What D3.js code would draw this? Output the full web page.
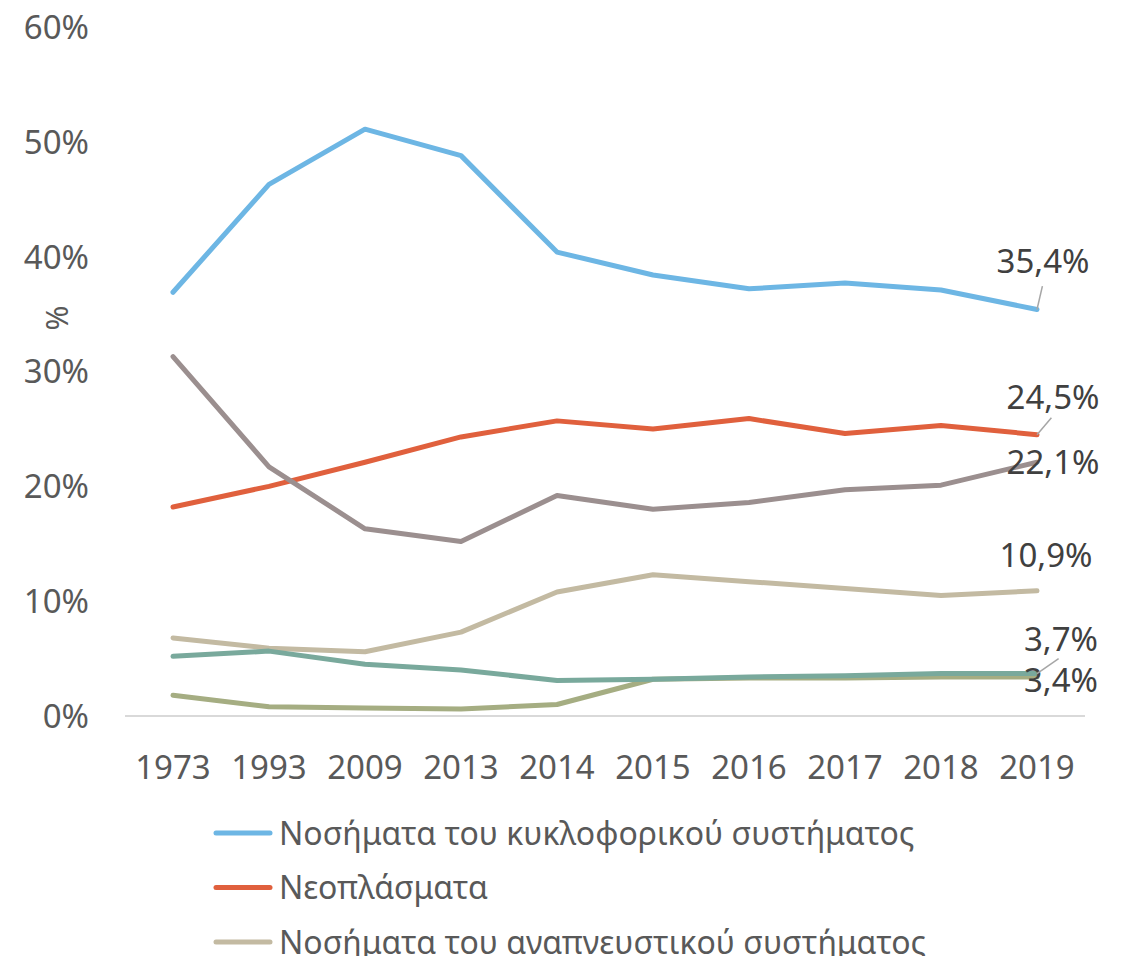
<!DOCTYPE html>
<html>
<head>
<meta charset="utf-8">
<script src="https://cdn.jsdelivr.net/npm/d3@7"></script>
<style>
  body { margin: 0; background: #fff; }
  text { font-family: "Noto Sans", "DejaVu Sans", sans-serif; }
</style>
</head>
<body>
<div id="chart"></div>
<script>
// years on the x axis
const years = ['1973', '1993', '2009', '2013', '2014', '2015', '2016', '2017', '2018', '2019'];

// share of deaths per cause, in percent
const circulatory = [36.9, 46.3, 51.1, 48.8, 40.4, 38.4, 37.2, 37.7, 37.1, 35.4];
const neoplasms   = [18.2, 20.0, 22.1, 24.3, 25.7, 25.0, 25.9, 24.6, 25.3, 24.5];
const respiratory = [6.8, 5.9, 5.6, 7.3, 10.8, 12.3, 11.7, 11.1, 10.5, 10.9];
const otherCauses = [31.3, 21.7, 16.3, 15.2, 19.2, 18.0, 18.6, 19.7, 20.1, 22.1];
const seriesE     = [1.8, 0.8, 0.7, 0.6, 1.0, 3.2, 3.3, 3.3, 3.4, 3.4];
const seriesF     = [5.2, 5.65, 4.5, 4.0, 3.1, 3.2, 3.4, 3.5, 3.7, 3.7];

const yTicks = [0, 10, 20, 30, 40, 50, 60];

const legendNames = [
  'Νοσήματα του κυκλοφορικού συστήματος',
  'Νεοπλάσματα',
  'Νοσήματα του αναπνευστικού συστήματος'
];

// drawing order (later on top)
const series = [
  { key: 'circ', values: circulatory, color: '#6db6e4', lab: [6, -36], lead: true },
  { key: 'neo',  values: neoplasms,   color: '#e0603d', lab: [16, -26], lead: true },
  { key: 'resp', values: respiratory, color: '#c3baa2', lab: [9, -24], lead: false },
  { key: 'oth',  values: otherCauses, color: '#9b8f8f', lab: [16, 12], lead: false },
  { key: 'e',    values: seriesE,     color: '#a5ad82', lab: [24, 15], lead: false },
  { key: 'f',    values: seriesF,     color: '#79a99c', lab: [24, -23], lead: true }
];

const width = 1125, height = 956;

const svg = d3.select('#chart').append('svg')
  .attr('width', width)
  .attr('height', height);

const x = d3.scaleBand()
  .domain(years)
  .range([125, 1085]);

const y = d3.scaleLinear()
  .domain([0, 60])
  .range([716, 27]);

const cx = d => x(d) + x.bandwidth() / 2;

// y tick labels
svg.append('g')
  .selectAll('text')
  .data(yTicks)
  .enter()
  .append('text')
  .attr('x', 89)
  .attr('y', d => y(d))
  .attr('dy', '0.36em')
  .attr('text-anchor', 'end')
  .style('font-size', '33px')
  .style('fill', '#595959')
  .text(d => d + '%');

// y axis title
svg.append('text')
  .attr('transform', 'translate(57,318) rotate(-90)')
  .attr('text-anchor', 'middle')
  .attr('dy', '0.36em')
  .style('font-size', '30px')
  .style('fill', '#595959')
  .text('%');

// baseline
svg.append('line')
  .attr('x1', 125).attr('x2', 1085)
  .attr('y1', y(0)).attr('y2', y(0))
  .attr('stroke', '#d9d9d9')
  .attr('stroke-width', 2);

// x tick labels
svg.append('g')
  .selectAll('text')
  .data(years)
  .enter()
  .append('text')
  .attr('x', d => cx(d))
  .attr('y', 779)
  .attr('text-anchor', 'middle')
  .style('font-size', '33px')
  .style('fill', '#595959')
  .text(d => d);

const line = d3.line()
  .x((d, i) => cx(years[i]))
  .y(d => y(d));

svg.append('g')
  .selectAll('path')
  .data(series)
  .enter()
  .append('path')
  .attr('d', d => line(d.values))
  .attr('fill', 'none')
  .attr('stroke', d => d.color)
  .attr('stroke-width', 5)
  .attr('stroke-linecap', 'round')
  .attr('stroke-linejoin', 'round');

// end-of-line labels
const last = years.length - 1;
const labels = svg.append('g');
series.forEach(s => {
  const px = cx(years[last]);
  const py = y(s.values[last]);
  if (s.lead) {
    labels.append('line')
      .attr('x1', px).attr('y1', py)
      .attr('x2', px + s.lab[0] * 0.9).attr('y2', py + s.lab[1] * 0.65)
      .attr('stroke', '#a6a6a6')
      .attr('stroke-width', 1.5);
  }
  labels.append('text')
    .attr('x', px + s.lab[0])
    .attr('y', py + s.lab[1])
    .attr('text-anchor', 'middle')
    .style('font-size', '33px')
    .style('fill', '#404040')
    .text(d3.format('.1f')(s.values[last]).replace('.', ',') + '%');
});

// legend
const legend = svg.append('g')
  .selectAll('g')
  .data(legendNames)
  .enter()
  .append('g')
  .attr('transform', (d, i) => `translate(0,${833 + i * 54.5})`);

legend.append('line')
  .attr('x1', 216).attr('x2', 270)
  .attr('stroke', (d, i) => series[i].color)
  .attr('stroke-width', 5)
  .attr('stroke-linecap', 'round');

legend.append('text')
  .attr('x', 279)
  .attr('dy', '0.36em')
  .style('font-size', '32px')
  .style('fill', '#595959')
  .text(d => d);
</script>
</body>
</html>
